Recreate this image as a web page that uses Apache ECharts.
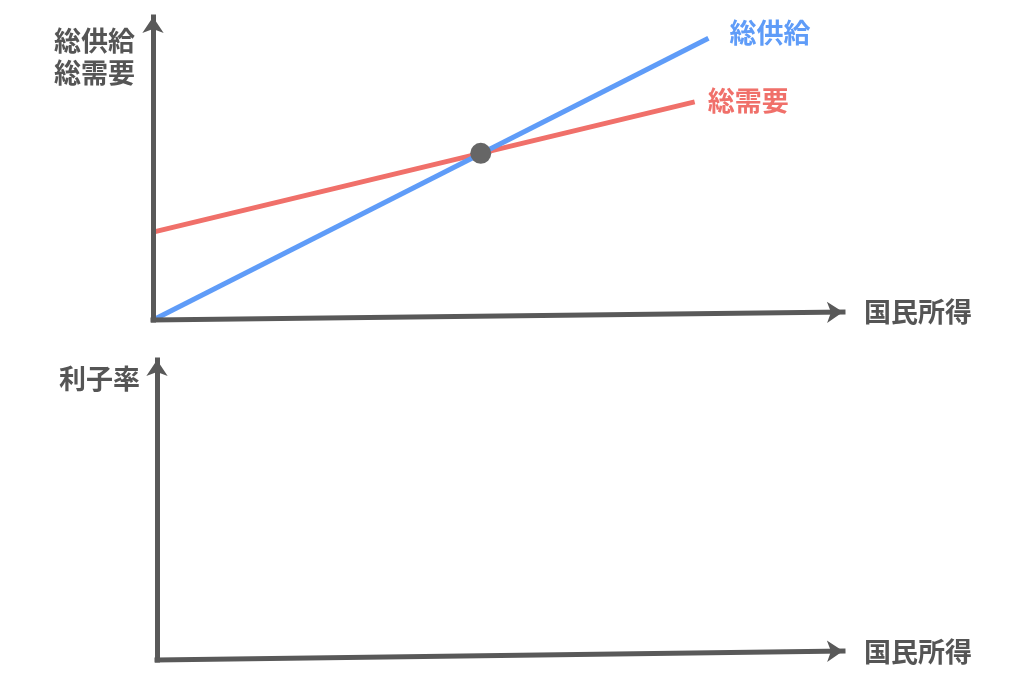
<!DOCTYPE html>
<html>
<head>
<meta charset="utf-8">
<script src="https://cdn.jsdelivr.net/npm/echarts@6/dist/echarts.min.js"></script>
<style>
  html, body { margin: 0; padding: 0; background: #fff; }
  #chart { width: 1024px; height: 694px; }
</style>
</head>
<body>
<div id="chart"></div>
<script>
/* Data */
let supplyName = "総供給";
let demandName = "総需要";
let supplyLine = [[0, 0], [80.5, 93]];
let demandLine = [[0, 29], [78.5, 72]];
let equilibrium = [[47.5, 55]];

/* Axes (hand drawn, the x axis rises a little toward its end) */
let topAxisY = [[0, 0], [0, 100]];
let topAxisX = [[0, 0], [100, 2.6]];
let bottomAxisY = [[0, 0], [0, 100]];
let bottomAxisX = [[0, 0], [100, 3]];

let topYTitle = ["総供給", "総需要"];
let bottomYTitle = "利子率";
let xTitle = "国民所得";

let AXIS_COLOR = "#595959";
let TEXT_COLOR = "#555";
let FONT = "'Noto Sans CJK JP', 'Noto Sans', sans-serif";

function arrowLines(segs) {
  return {
    silent: true,
    symbol: ["none", "arrow"],
    symbolSize: [16, 16],
    label: { show: false },
    lineStyle: { color: AXIS_COLOR, width: 5, type: "solid", cap: "square" },
    itemStyle: { color: AXIS_COLOR },
    emphasis: { disabled: true },
    animation: false,
    data: segs.map(function (s) {
      return [{ coord: s[0] }, { coord: s[1] }];
    }),
  };
}

let chart = echarts.init(document.getElementById("chart"), null, { renderer: "canvas" });

chart.setOption({
  animation: false,
  backgroundColor: "#fff",
  textStyle: { fontFamily: FONT },
  grid: [
    { left: 153, right: 181, top: 17, bottom: 374 },
    { left: 157, right: 181, top: 360, bottom: 34 },
  ],
  xAxis: [
    { type: "value", gridIndex: 0, min: 0, max: 100, show: false },
    { type: "value", gridIndex: 1, min: 0, max: 100, show: false },
  ],
  yAxis: [
    { type: "value", gridIndex: 0, min: 0, max: 100, show: false },
    { type: "value", gridIndex: 1, min: 0, max: 100, show: false },
  ],
  graphic: [
    {
      type: "text", left: 54, top: 25,
      style: { text: topYTitle.join("\n"), fill: TEXT_COLOR, font: "bold 27px " + FONT, lineHeight: 32 },
    },
    {
      type: "text", left: 59, top: 365,
      style: { text: bottomYTitle, fill: TEXT_COLOR, font: "bold 27px " + FONT },
    },
    {
      type: "text", left: 864, top: 298,
      style: { text: xTitle, fill: TEXT_COLOR, font: "bold 27px " + FONT },
    },
    {
      type: "text", left: 864, top: 638,
      style: { text: xTitle, fill: TEXT_COLOR, font: "bold 27px " + FONT },
    },
  ],
  series: [
    {
      type: "line", xAxisIndex: 0, yAxisIndex: 0, data: [], z: 1,
      markLine: arrowLines([topAxisY, topAxisX]),
    },
    {
      type: "line", xAxisIndex: 1, yAxisIndex: 1, data: [], z: 1,
      markLine: arrowLines([bottomAxisY, bottomAxisX]),
    },
    {
      name: demandName, type: "line", xAxisIndex: 0, yAxisIndex: 0, z: 2,
      data: demandLine, showSymbol: false, silent: true,
      lineStyle: { color: "#f0706a", width: 5 },
      itemStyle: { color: "#f0706a" },
      endLabel: {
        show: true, formatter: "{a}", color: "#f0706a",
        fontSize: 27, fontWeight: "bold", fontFamily: FONT,
        distance: 13, offset: [0, -1],
      },
    },
    {
      name: supplyName, type: "line", xAxisIndex: 0, yAxisIndex: 0, z: 3,
      data: supplyLine, showSymbol: false, silent: true,
      lineStyle: { color: "#5f9cf8", width: 5 },
      itemStyle: { color: "#5f9cf8" },
      endLabel: {
        show: true, formatter: "{a}", color: "#5f9cf8",
        fontSize: 27, fontWeight: "bold", fontFamily: FONT,
        distance: 21, offset: [0, -5],
      },
    },
    {
      type: "scatter", xAxisIndex: 0, yAxisIndex: 0, z: 4,
      data: equilibrium, symbolSize: 21, silent: true,
      itemStyle: { color: "#666", opacity: 1 },
    },
  ],
});
</script>
</body>
</html>
